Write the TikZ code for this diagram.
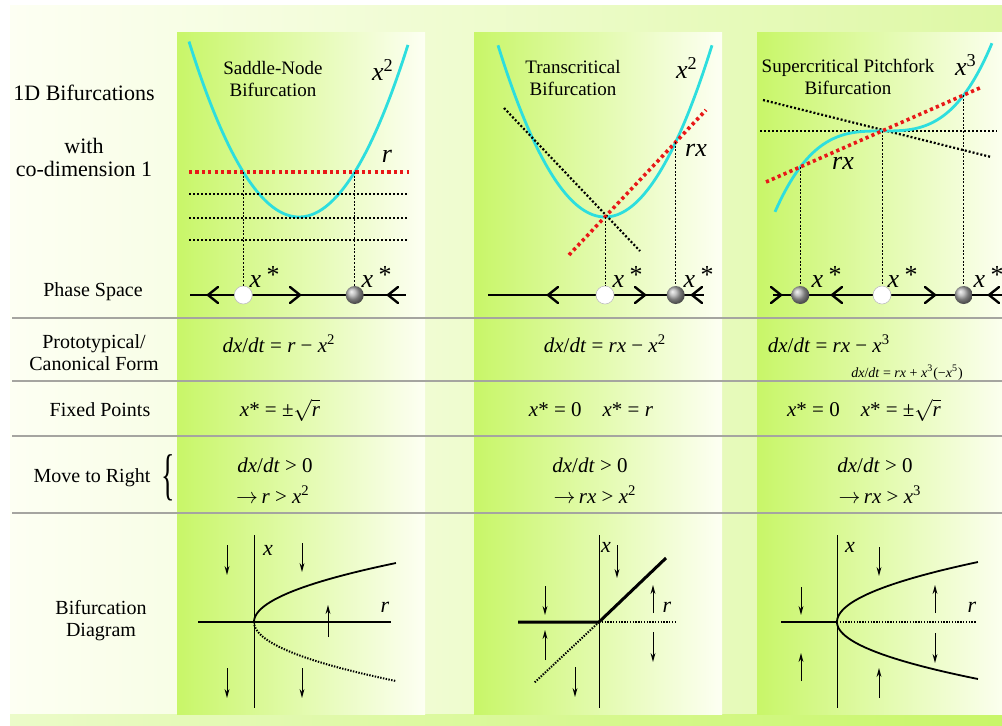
\documentclass[tikz,border=0pt]{standalone}
\usepackage{fontspec}
\setmainfont{Liberation Serif}
\usetikzlibrary{arrows.meta,shadings}
\definecolor{panelgreen}{RGB}{200,246,104}
\definecolor{panelwhite}{RGB}{253,255,243}
\definecolor{bggreen}{RGB}{222,248,165}
\definecolor{curvecyan}{RGB}{45,222,222}
\definecolor{dotred}{RGB}{232,24,24}
\definecolor{seprule}{RGB}{165,165,160}

\begin{document}
\begin{tikzpicture}[x=0.5pt,y=-0.5pt,>=Stealth,
  rowlbl/.style={font=\fontsize{10}{11}\selectfont,align=center},
  mth/.style={font=\fontsize{10.5}{12}\selectfont},
  ttl/.style={font=\fontsize{9.5}{11}\selectfont,align=center},
  big/.style={font=\fontsize{13}{15}\selectfont\itshape},
  axlbl/.style={font=\fontsize{11}{13}\selectfont\itshape},
  stable/.style={circle,minimum size=9pt,inner sep=0pt,shading=ball,ball color=gray!65},
  unstable/.style={circle,minimum size=9pt,inner sep=0pt,fill=white,draw=gray!50,line width=0.3pt},
  curve/.style={curvecyan,line width=1.4pt},
  reddot/.style={dotred,line width=1.8pt,dash pattern=on 1.6pt off 1.6pt},
  blkdot/.style={black,line width=1.1pt,dash pattern=on 1pt off 1pt},
  guide/.style={black,line width=0.4pt,dash pattern=on 1pt off 0.8pt},
  phase/.style={line width=1pt},
  chev/.style={line width=1.2pt,line cap=round},
  seprow/.style={seprule,line width=1pt},
  axis/.style={line width=0.5pt},
  branch/.style={line width=0.9pt},
  branchdot/.style={line width=1pt,dash pattern=on 0.7pt off 0.7pt},
  tick/.style={-{Stealth[length=4.5pt,width=2.4pt]},line width=0.5pt}]

\useasboundingbox (0,0) rectangle (1002,725);

%% ── background ───────────────────────────────────────────────────────────────
\fill[white] (0,0) rectangle (1002,725);
\shade[left color=panelwhite,right color=bggreen] (10,5) rectangle (1002,725);
\shade[left color=bggreen!60!white,right color=panelgreen] (10,714) rectangle (1002,725);

%% ── column panels ────────────────────────────────────────────────────────────
\shade[left color=panelgreen,right color=panelwhite] (177,32) rectangle (425,714);
\shade[left color=panelgreen,right color=panelwhite] (474,32) rectangle (722,714);
\shade[left color=panelgreen,right color=panelwhite] (757,32) rectangle (1010,714);

%% ── row separators ───────────────────────────────────────────────────────────
\foreach \ry in {318,381,436,513}
  \draw[seprow] (12,\ry) -- (1002,\ry);

%% ════════════════════════════════════════════════════════════════════════════
%%  LEFT COLUMN — row labels
%% ════════════════════════════════════════════════════════════════════════════
\node[rowlbl,font=\fontsize{11}{11.5}\selectfont] (head) at (84,93) {1D Bifurcations};
\node[rowlbl,font=\fontsize{11}{11.5}\selectfont] (codim) at (84,157) {with\\co-dimension 1};
\node[rowlbl] (phaselbl) at (93,292) {Phase Space};
\node[rowlbl] (formlbl) at (94,353) {Prototypical/\\Canonical Form};
\node[rowlbl] (fixlbl) at (100,410) {Fixed Points};
\node[rowlbl] (movelbl) at (92,478) {Move to Right};
\node[inner sep=0pt,font=\fontsize{10}{11}\selectfont] (movebrace) at (168,478) {\scalebox{1.4}[2.8]{\{}};
\node[rowlbl] (diaglbl) at (101,621) {Bifurcation\\Diagram};

%% ════════════════════════════════════════════════════════════════════════════
%%  COLUMN 1 — Saddle-Node
%% ════════════════════════════════════════════════════════════════════════════
\node[ttl] (snttl) at (273,79) {Saddle-Node\\Bifurcation};
\node[big] (snsq) at (383,70) {x\textsuperscript{\upshape 2}};
\node[big] (snr) at (387,156) {r};

\draw[curve] plot[domain=-1.1:1.09,samples=60,smooth] ({299+100*\x},{217-14.5*\x*\x*10});
\draw[reddot] (189,172) -- (409,172);
\foreach \ly in {194,218,240}
  \draw[blkdot] (189,\ly) -- (409,\ly);

%% phase line
\draw[phase] (190,295) -- (406,295);
\foreach \px in {213,393}
  \draw[chev] (\px+5,287) -- (\px-5,295) -- (\px+5,303);
\draw[chev] (290,287) -- (300,295) -- (290,303);
\coordinate (snA) at (243.3,172);
\coordinate (snB) at (354.7,172);
\node[unstable] (snfp1) at (243.3,295) {};
\node[stable] (snfp2) at (354.7,295) {};
\draw[guide] (snA) -- (snfp1);
\draw[guide] (snB) -- (snfp2);
\node[big] (snx1) at (264,277) {x\,\raisebox{.3ex}{*}};
\node[big] (snx2) at (376,277) {x\,\raisebox{.3ex}{*}};

%% rows
\node[mth] (snform) at (279,344) {\textit{dx}/\textit{dt} = \textit{r} − \textit{x}\textsuperscript{2}};
\node[mth] (snfix) at (280,410) {\textit{x}* = ±$\sqrt{\textit{r}}$};
\node[mth] (snmv1) at (275,465) {\textit{dx}/\textit{dt} > 0};
\node[mth] (snmv2) at (273,495) {$\rightarrow$\,\textit{r} > \textit{x}\textsuperscript{2}};

%% bifurcation diagram
\draw[axis] (254,535) -- (254,708);
\draw[line width=1pt] (198,622) -- (391,622);
\draw[branch] plot[domain=0:1,samples=40,smooth] ({254+142*\x*\x},{622-59*\x});
\draw[branchdot] plot[domain=0:1,samples=40,smooth] ({254+142*\x*\x},{622+59*\x});
\node[axlbl] (snxax) at (268,550) {x};
\node[axlbl] (snrax) at (385,607) {r};
\foreach \px/\ya/\yb in {227/545/575,302/543/572,328/637/605,227/668/698,302/668/698}
  \draw[tick] (\px,\ya) -- (\px,\yb);

%% ════════════════════════════════════════════════════════════════════════════
%%  COLUMN 2 — Transcritical
%% ════════════════════════════════════════════════════════════════════════════
\node[ttl] (tcttl) at (573,78) {Transcritical\\Bifurcation};
\node[big] (tcsq) at (687,68) {x\textsuperscript{\upshape 2}};
\node[big] (tcrx) at (696,150) {rx};

\draw[curve] plot[domain=-1.07:1.07,samples=60,smooth] ({605+100*\x},{217-15*\x*\x*10});
\draw[blkdot] (504,108) -- (640,251);
\draw[reddot] (569,255) -- (706,110);

%% phase line
\draw[phase] (488,295) -- (704,295);
\foreach \px in {553,697}
  \draw[chev] (\px+5,287) -- (\px-5,295) -- (\px+5,303);
\draw[chev] (635,287) -- (645,295) -- (635,303);
\coordinate (tcA) at (605,217);
\coordinate (tcB) at (675.7,142);
\node[unstable] (tcfp1) at (605,295) {};
\node[stable] (tcfp2) at (675.7,295) {};
\draw[guide] (tcA) -- (tcfp1);
\draw[guide] (tcB) -- (tcfp2);
\node[big] (tcx1) at (627,277) {x\,\raisebox{.3ex}{*}};
\node[big] (tcx2) at (698,277) {x\,\raisebox{.3ex}{*}};

%% rows
\node[mth] (tcform) at (605,344) {\textit{dx}/\textit{dt} = \textit{rx} − \textit{x}\textsuperscript{2}};
\node[mth] (tcfix) at (591,410) {\textit{x}* = 0\quad \textit{x}* = \textit{r}};
\node[mth] (tcmv1) at (590,465) {\textit{dx}/\textit{dt} > 0};
\node[mth] (tcmv2) at (595,495) {$\rightarrow$\,\textit{rx} > \textit{x}\textsuperscript{2}};

%% bifurcation diagram
\draw[axis] (599,535) -- (599,708);
\draw[line width=1.5pt] (518,622) -- (599,622) -- (666,558);
\draw[branchdot] (599,622) -- (677,622);
\draw[branchdot] (599,622) -- (534,683);
\node[axlbl] (tcxax) at (606,547) {x};
\node[axlbl] (tcrax) at (667,607) {r};
\foreach \px/\ya/\yb in {545/586/615,545/660/630,617/545/578,653/613/585,653/632/662,575/667/697}
  \draw[tick] (\px,\ya) -- (\px,\yb);

%% ════════════════════════════════════════════════════════════════════════════
%%  COLUMN 3 — Supercritical Pitchfork
%% ════════════════════════════════════════════════════════════════════════════
\node[ttl] (pfttl) at (848,77) {Supercritical Pitchfork\\Bifurcation};
\node[big] (pfcb) at (966,65) {x\textsuperscript{\upshape 3}};
\node[big] (pfrx) at (843,163) {rx};

\draw[blkdot] (760,131) -- (997,131);
\draw[blkdot] (763,100) -- (991,157);
\draw[curve] plot[domain=-1.07:1.10,samples=60,smooth] ({882+100*\x},{131-66*\x*\x*\x});
\draw[reddot] (766,182) -- (982,87);

%% phase line
\draw[phase] (773,295) -- (1002,295);
\foreach \px in {837,994}
  \draw[chev] (\px+5,287) -- (\px-5,295) -- (\px+5,303);
\foreach \px in {776,930}
  \draw[chev] (\px-5,287) -- (\px+5,295) -- (\px-5,303);
\coordinate (pfA) at (800.3,167);
\coordinate (pfB) at (882,131);
\coordinate (pfC) at (963.7,95);
\node[stable] (pffp1) at (800.3,295) {};
\node[unstable] (pffp2) at (882,295) {};
\node[stable] (pffp3) at (963.7,295) {};
\draw[guide] (pfA) -- (pffp1);
\draw[guide] (pfB) -- (pffp2);
\draw[guide] (pfC) -- (pffp3);
\node[big] (pfx1) at (826,277) {x\,\raisebox{.3ex}{*}};
\node[big] (pfx2) at (902,277) {x\,\raisebox{.3ex}{*}};
\node[big] (pfx3) at (988,277) {x\,\raisebox{.3ex}{*}};

%% rows
\node[mth] (pfform) at (829,344) {\textit{dx}/\textit{dt} = \textit{rx} − \textit{x}\textsuperscript{3}};
\node[mth,font=\fontsize{7}{8}\selectfont] (pfform2) at (907,373)
  {\textit{dx}/\textit{dt} = \textit{rx} + \textit{x}\textsuperscript{3}(−\textit{x}\textsuperscript{5})};
\node[mth] (pffix) at (864,410) {\textit{x}* = 0\quad \textit{x}* = ±$\sqrt{\textit{r}}$};
\node[mth] (pfmv1) at (875,465) {\textit{dx}/\textit{dt} > 0};
\node[mth] (pfmv2) at (880,495) {$\rightarrow$\,\textit{rx} > \textit{x}\textsuperscript{3}};

%% bifurcation diagram
\draw[axis] (837,535) -- (837,708);
\draw[branch] (781,622) -- (837,622);
\draw[branchdot] (837,622) -- (976,622);
\draw[branch] plot[domain=0:1,samples=40,smooth] ({837+141*\x*\x},{622-60*\x});
\draw[branch] plot[domain=0:1,samples=40,smooth] ({837+141*\x*\x},{622+57*\x});
\node[axlbl] (pfxax) at (850,547) {x};
\node[axlbl] (pfrax) at (972,607) {r};
\foreach \px/\ya/\yb in {801/587/615,801/681/653,879/547/576,879/698/668,935/613/585,935/633/663}
  \draw[tick] (\px,\ya) -- (\px,\yb);

\end{tikzpicture}
\end{document}
